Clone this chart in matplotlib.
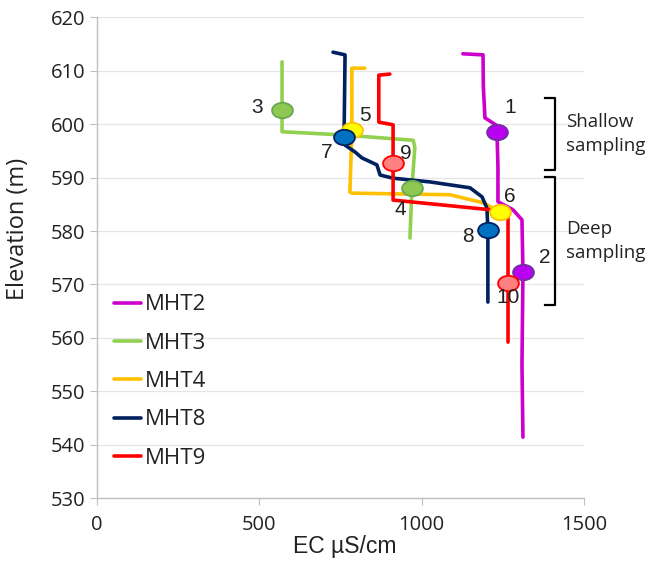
import matplotlib
matplotlib.use("Agg")
import matplotlib.pyplot as plt
from matplotlib.path import Path
from matplotlib.transforms import Affine2D

# ---- profile data (EC uS/cm, elevation m) ----
mht2_ec   = [1127, 1189, 1190, 1195, 1228, 1232, 1235, 1235, 1281, 1309, 1312, 1309, 1312]
mht2_elev = [613.2, 613.0, 607.0, 601.2, 599.9, 598.6, 592.0, 585.5, 584.0, 582.1, 572.3, 555.0, 541.4]

mht3_ec   = [570, 570, 570, 757, 974, 979, 970, 964]
mht3_elev = [611.7, 602.7, 598.6, 598.0, 597.0, 595.7, 588.1, 578.7]

mht4_ec   = [825, 785, 785, 779, 785, 1087, 1189, 1241]
mht4_elev = [610.5, 610.5, 598.9, 587.3, 587.1, 586.8, 585.3, 583.6]

mht8_ec   = [727, 764, 761, 764, 795, 816, 862, 872, 912, 1026, 1149, 1186, 1201, 1204, 1204]
mht8_elev = [613.5, 613.0, 597.6, 596.1, 594.8, 593.7, 592.4, 590.5, 589.9, 589.2, 588.1, 586.4, 584.3, 580.2, 566.7]

mht9_ec   = [902, 868, 868, 912, 912, 912, 1210, 1266, 1266, 1266]
mht9_elev = [609.4, 609.2, 600.4, 599.9, 592.7, 585.8, 584.0, 583.4, 570.3, 559.2]

series_names = ["MHT2", "MHT3", "MHT4", "MHT8", "MHT9"]

# ---- sampling points ----
sample_ids  = ["1", "2", "3", "4", "5", "6", "7", "8", "9", "10"]
sample_ec   = [1232, 1312, 570, 970, 785, 1241, 761, 1204, 912, 1266]
sample_elev = [598.6, 572.3, 602.7, 588.1, 598.9, 583.6, 597.6, 580.2, 592.7, 570.3]
label_ec    = [1272, 1380, 493, 933, 825, 1272, 708, 1143, 952, 1266]
label_elev  = [603.1, 575.0, 603.2, 584.0, 601.7, 586.4, 594.8, 578.9, 594.6, 567.5]

# ---- sampling zones ----
zone_names = ["Shallow\nsampling", "Deep\nsampling"]
zone_top = [604.9, 590.1]
zone_bot = [591.4, 566.2]

x_ticks = [0, 500, 1000, 1500]
y_ticks = list(range(530, 621, 10))

line_colors = ["#CC00CC", "#92D050", "#FFC000", "#002060", "#FF0000"]
sample_fill = ["#B900F0", "#B900F0", "#8CC852", "#8CC852", "#FFFF00", "#FFFF00",
               "#0070C0", "#0070C0", "#FF8080", "#FF8080"]
sample_edge = ["#7030A0", "#7030A0", "#6AA84F", "#6AA84F", "#FFC000", "#FFC000",
               "#002060", "#002060", "#FF0000", "#FF0000"]

cal = ["Open Sans", "DejaVu Sans"]
ari = ["Liberation Sans", "DejaVu Sans"]

fig = plt.figure(figsize=(6.45, 5.64), dpi=100)
ax = fig.add_axes([0.1504, 0.1170, 0.7550, 0.8520])

series = [(mht2_ec, mht2_elev), (mht3_ec, mht3_elev), (mht4_ec, mht4_elev),
          (mht8_ec, mht8_elev), (mht9_ec, mht9_elev)]
handles = []
for (xs, ys), name, c in zip(series, series_names, line_colors):
    h, = ax.plot(xs, ys, color=c, lw=2.6, solid_joinstyle="round",
                 solid_capstyle="round", label=name, zorder=3)
    handles.append(h)

ell = Path.unit_circle().transformed(Affine2D().scale(1.35, 1.0))
for i in range(len(sample_ids)):
    ax.plot(sample_ec[i], sample_elev[i], marker=ell, markersize=15,
            markerfacecolor=sample_fill[i], markeredgecolor=sample_edge[i],
            markeredgewidth=1.3, ls="none", zorder=5)
    ax.text(label_ec[i], label_elev[i], sample_ids[i], fontsize=15,
            family=ari, ha="center", va="center", color="#222222", zorder=6)

# brackets
bx = 1410
for top, bot, name in zip(zone_top, zone_bot, zone_names):
    ax.plot([bx - 30, bx, bx, bx - 30], [top, top, bot, bot], color="black",
            lw=1.6, clip_on=False, zorder=4)
    ax.text(bx + 34, (top + bot) / 2, name, fontsize=13.5, family=cal,
            ha="left", va="center", color="#222222", linespacing=1.4,
            clip_on=False)

ax.set_xlim(0, 1500)
ax.set_ylim(530, 620)
ax.set_xticks(x_ticks)
ax.set_yticks(y_ticks)
ax.grid(axis="y", color="#E6E6E6", lw=0.9)
ax.set_axisbelow(True)
for s in ["top", "right"]:
    ax.spines[s].set_visible(False)
for s in ["left", "bottom"]:
    ax.spines[s].set_color("#BFBFBF")
    ax.spines[s].set_linewidth(1.0)
ax.tick_params(axis="both", direction="out", length=5, color="#BFBFBF",
               labelsize=14.5, labelcolor="#222222")
ax.tick_params(axis="x", pad=7)
for lab in ax.get_xticklabels() + ax.get_yticklabels():
    lab.set_family(cal)
ax.set_xlabel("EC µS/cm", fontsize=16.5, family=ari, color="#222222")
ax.set_ylabel("Elevation (m)", fontsize=17, family=cal, color="#222222")
ax.xaxis.set_label_coords(0.509, -0.076)
ax.yaxis.set_label_coords(-0.138, 0.56)

leg = ax.legend(handles=handles, loc="upper left",
                bbox_to_anchor=(0.176, 0.478), bbox_transform=fig.transFigure,
                frameon=False, prop={"family": cal, "size": 16},
                handlelength=1.25, handletextpad=0.15, labelspacing=0.78,
                borderpad=0, borderaxespad=0)
for t in leg.get_texts():
    t.set_color("#222222")

fig.savefig("out.png", dpi=100)
